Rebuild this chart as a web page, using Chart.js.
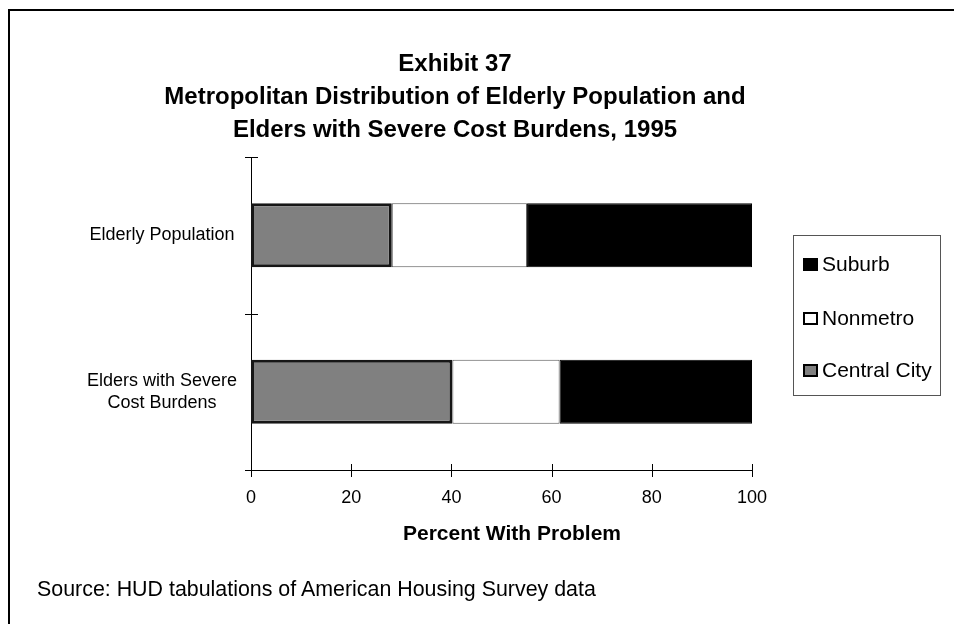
<!DOCTYPE html>
<html>
<head>
<meta charset="utf-8">
<script src="https://cdn.jsdelivr.net/npm/chart.js@4.4.1/dist/chart.umd.min.js"></script>
<style>
  html, body { margin: 0; padding: 0; background: #fff; overflow: hidden; }
  body { width: 954px; height: 624px; position: relative; font-family: 'Liberation Sans', Arial, sans-serif; color: #000; }
  #frame { position: absolute; left: 8px; top: 9px; width: 960px; height: 640px; border-left: 2px solid #000; border-top: 2px solid #000; }
  #chart { position: absolute; left: 0; top: 0; }
  #title { position: absolute; left: 0; width: 910px; top: 46px; text-align: center; font-weight: bold; font-size: 24px; line-height: 33px; }
  #xtitle { position: absolute; left: 312px; width: 400px; top: 520px; text-align: center; font-weight: bold; font-size: 21px; line-height: 26px; }
  #source { position: absolute; left: 37px; top: 576px; font-size: 21.4px; line-height: 26px; }
  #legend { position: absolute; left: 793px; top: 235px; width: 148px; height: 161px; border: 1px solid #555; box-sizing: border-box; }
  .item { position: absolute; left: 9px; font-size: 21px; line-height: 24px; white-space: nowrap; }
  .swatch { display: inline-block; width: 11px; height: 9px; border: 2px solid #000; margin-right: 4px; vertical-align: 0px; }
</style>
</head>
<body>
<div id="frame"></div>
<canvas id="chart" width="954" height="624"></canvas>
<div id="title">Exhibit 37<br>Metropolitan Distribution of Elderly Population and<br>Elders with Severe Cost Burdens, 1995</div>
<div id="xtitle">Percent With Problem</div>
<div id="legend"></div>
<div id="source">Source: HUD tabulations of American Housing Survey data</div>
<script>
const categories = [['Elderly Population'], ['Elders with Severe', 'Cost Burdens']];
const centralCity = [28.1, 40.2];
const nonmetro = [27.0, 21.4];
const suburb = [44.9, 38.4];
const xTicks = [0, 20, 40, 60, 80, 100];

const seriesNames = ['Central City', 'Nonmetro', 'Suburb'];
const seriesColors = ['#808080', '#ffffff', '#000000'];

// ticks that cross the axis lines, like the original
const crossTicks = {
    id: 'crossTicks',
    afterDraw(chart) {
        const { ctx, scales: { x, y } } = chart;
        ctx.save();
        ctx.strokeStyle = '#000';
        ctx.lineWidth = 1;
        ctx.beginPath();
        x.ticks.forEach(t => {
            const px = Math.round(x.getPixelForValue(t.value)) + 0.5;
            ctx.moveTo(px, x.top - 6);
            ctx.lineTo(px, x.top + 7);
        });
        for (let i = 0; i <= categories.length; i++) {
            const py = Math.round(y.getPixelForValue(i - 0.5)) + 0.5;
            ctx.moveTo(y.right - 6, py);
            ctx.lineTo(y.right + 7, py);
        }
        ctx.stroke();
        ctx.restore();
    }
};

const font = "'Liberation Sans', Arial, sans-serif";

new Chart(document.getElementById('chart'), {
    type: 'bar',
    data: {
        labels: categories,
        datasets: [
            { label: seriesNames[0], data: centralCity, backgroundColor: seriesColors[0], borderColor: '#161616', borderWidth: 3 },
            { label: seriesNames[1], data: nonmetro, backgroundColor: seriesColors[1], borderColor: '#555', borderWidth: 1 },
            { label: seriesNames[2], data: suburb, backgroundColor: seriesColors[2], borderColor: '#000', borderWidth: 1 }
        ]
    },
    options: {
        indexAxis: 'y',
        responsive: false,
        animation: false,
        datasets: { bar: { categoryPercentage: 0.41, barPercentage: 1, borderSkipped: false } },
        layout: { padding: { top: 157, right: 202, bottom: 78, left: 0 } },
        plugins: { legend: { display: false }, title: { display: false }, tooltip: { enabled: false } },
        scales: {
            x: {
                stacked: true,
                min: 0,
                max: 100,
                afterBuildTicks: scale => { scale.ticks = xTicks.map(v => ({ value: v })); },
                afterFit: scale => { scale.height = 76; },
                grid: { display: false, drawTicks: false },
                border: { display: true, color: '#000', width: 1 },
                ticks: { color: '#000', font: { family: font, size: 18 }, padding: 17, maxRotation: 0 }
            },
            y: {
                stacked: true,
                afterFit: scale => { scale.width = 251; },
                grid: { display: false, drawTicks: false },
                border: { display: true, color: '#000', width: 1 },
                ticks: { color: '#000', font: { family: font, size: 18 }, padding: 14, crossAlign: 'center' }
            }
        }
    },
    plugins: [crossTicks]
});

// legend box, Suburb on top as in the original
const legend = document.getElementById('legend');
const rowTops = [16, 70, 122];
[2, 1, 0].forEach((s, i) => {
    const item = document.createElement('div');
    item.className = 'item';
    item.style.top = rowTops[i] + 'px';
    const sw = document.createElement('span');
    sw.className = 'swatch';
    sw.style.background = seriesColors[s];
    item.appendChild(sw);
    item.appendChild(document.createTextNode(seriesNames[s]));
    legend.appendChild(item);
});
</script>
</body>
</html>
